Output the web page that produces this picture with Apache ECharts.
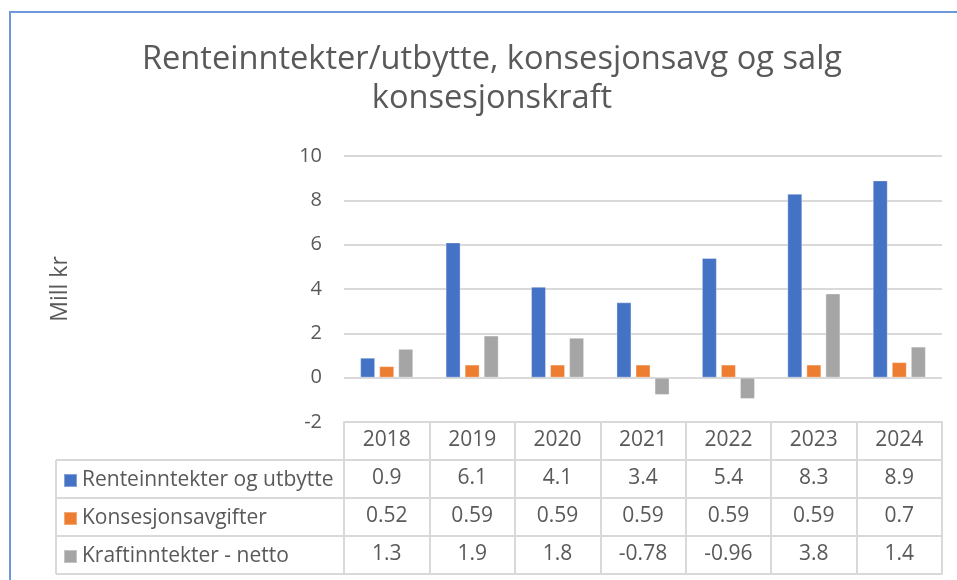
<!DOCTYPE html>
<html>
<head>
<meta charset="utf-8">
<script src="https://cdn.jsdelivr.net/npm/echarts@6/dist/echarts.min.js"></script>
<style>
html,body{margin:0;padding:0;background:#fff;}
#c{width:957px;height:580px;}
</style>
</head>
<body>
<div id="c"></div>
<script>
const categories = ['2018','2019','2020','2021','2022','2023','2024'];
const seriesNames = ['Renteinntekter og utbytte','Konsesjonsavgifter','Kraftinntekter - netto'];
const renteinntekter = [0.9, 6.1, 4.1, 3.4, 5.4, 8.3, 8.9];
const konsesjonsavgifter = [0.52, 0.59, 0.59, 0.59, 0.59, 0.59, 0.7];
const kraftinntekter = [1.3, 1.9, 1.8, -0.78, -0.96, 3.8, 1.4];
const yTicks = [-2, 0, 2, 4, 6, 8, 10];

const FONT = 'Open Sans';
const TXT = '#595959';
const LINE = '#d9d9d9';
const colors = ['#4472C4', '#ED7D31', '#A5A5A5'];
const rows = [renteinntekter, konsesjonsavgifter, kraftinntekter];
const ROW_H = 38;
const TABLE_FS = 21;

const chart = echarts.init(document.getElementById('c'), null, {renderer: 'canvas'});

const tableAxes = rows.map((vals, i) => ({
  type: 'category',
  data: categories,
  gridIndex: 0,
  position: 'bottom',
  offset: ROW_H * (i + 1),
  axisLine: {show: true, onZero: false, lineStyle: {color: LINE, width: 2}},
  axisTick: {show: false},
  axisLabel: {
    show: true, interval: 0, margin: 8,
    fontFamily: FONT, fontSize: TABLE_FS, color: TXT,
    formatter: (v, idx) => String(vals[idx])
  },
  splitLine: {show: false}
}));

const option = {
  animation: false,
  backgroundColor: '#fff',
  color: colors,
  textStyle: {fontFamily: FONT},
  title: {
    text: 'Renteinntekter/utbytte, konsesjonsavg og salg\nkonsesjonskraft',
    left: 487, top: 35, textAlign: 'center',
    textStyle: {fontFamily: FONT, fontSize: 32.6, fontWeight: 'normal', color: TXT, lineHeight: 39}
  },
  legend: {
    orient: 'vertical',
    left: 63, top: 470,
    itemWidth: 13, itemHeight: 13, itemGap: 17,
    icon: 'rect', selectedMode: false, padding: 0,
    textStyle: {fontFamily: FONT, fontSize: TABLE_FS, color: TXT, padding: [0, 0, 0, 0]},
    data: seriesNames
  },
  grid: {left: 344, right: 15, top: 156, bottom: 158, containLabel: false},
  xAxis: [{
    type: 'category',
    data: categories,
    gridIndex: 0,
    position: 'bottom',
    axisLine: {show: true, onZero: false, lineStyle: {color: LINE, width: 2}},
    axisTick: {show: true, inside: false, length: ROW_H * 4, interval: 0, lineStyle: {color: LINE, width: 2}},
    axisLabel: {show: true, interval: 0, margin: 8, fontFamily: FONT, fontSize: TABLE_FS, color: TXT},
    splitLine: {show: false}
  }].concat(tableAxes).concat([{
    type: 'category', data: categories, gridIndex: 0, position: 'bottom',
    offset: ROW_H * 4,
    axisLine: {show: true, onZero: false, lineStyle: {color: LINE, width: 2}},
    axisTick: {show: false}, axisLabel: {show: false}, splitLine: {show: false}
  }]),
  yAxis: {
    type: 'value', min: yTicks[0], max: yTicks[yTicks.length - 1], interval: 2,
    name: 'Mill kr', nameLocation: 'middle', nameGap: 272, nameRotate: 90,
    nameTextStyle: {fontFamily: FONT, fontSize: 23, color: TXT},
    axisLine: {show: false}, axisTick: {show: false},
    axisLabel: {margin: 22, fontFamily: FONT, fontSize: 20, color: TXT},
    splitLine: {lineStyle: {color: LINE, width: 2}}
  },
  series: rows.map((vals, i) => ({
    name: seriesNames[i],
    type: 'bar',
    xAxisIndex: 0,
    data: vals,
    barWidth: 15,
    barGap: '27%',
    itemStyle: {color: colors[i], borderColor: 'rgba(255,255,255,0.35)', borderWidth: 1}
  })),
  graphic: []
};

chart.setOption(option);

// Legend column box of the data table (left part), aligned to grid edges
const gridLeft = chart.getModel().getComponent('grid', 0).coordinateSystem.getRect().x;
const yBottom = chart.convertToPixel({yAxisIndex: 0}, yTicks[0]);
const tableLeft = 56;
const g = [];
for (let r = 1; r <= 4; r++) {
  g.push({type: 'line', shape: {x1: tableLeft, y1: yBottom + ROW_H * r, x2: gridLeft, y2: yBottom + ROW_H * r},
    style: {stroke: LINE, lineWidth: 2}, silent: true});
}
g.push({type: 'line', shape: {x1: tableLeft, y1: yBottom + ROW_H, x2: tableLeft, y2: yBottom + ROW_H * 4},
  style: {stroke: LINE, lineWidth: 2}, silent: true});
// outer frame (chart border)
g.push({type: 'rect', shape: {x: 10, y: 12, width: 1000, height: 700},
  style: {fill: null, stroke: '#6d98dc', lineWidth: 2}, silent: true, z: 100});
chart.setOption({graphic: g});
</script>
</body>
</html>
